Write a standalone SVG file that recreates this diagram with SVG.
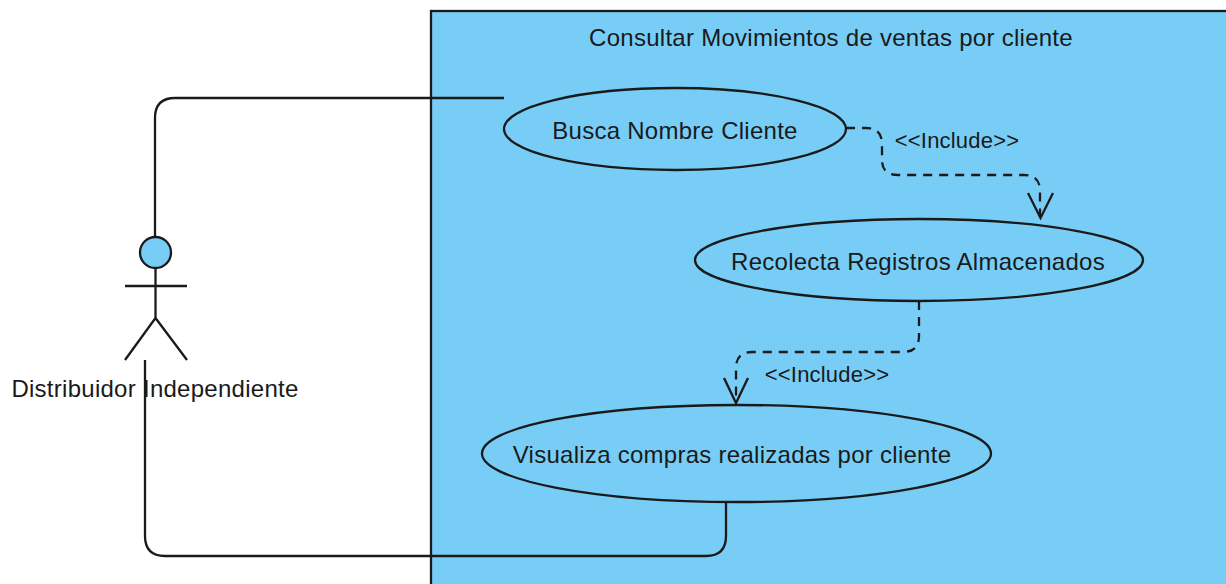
<svg xmlns="http://www.w3.org/2000/svg" width="1226" height="584" viewBox="0 0 1226 584">
<style>
text{font-family:"Liberation Sans",Arial,sans-serif;font-size:24px;letter-spacing:.27px;fill:#1a1a1a;text-anchor:middle}
.s{fill:none;stroke:#1a1a1a;stroke-width:2.3}
.d{stroke-dasharray:9 7}
.e{fill:#78cdf6;stroke:#1a1a1a;stroke-width:2.3}
.l{font-size:22px;letter-spacing:.2px}
</style>
<rect width="1226" height="584" fill="#fff"/>
<g id="system"><rect x="431" y="11" width="800" height="580" class="e"/>
<text x="831" y="46">Consultar Movimientos de ventas por cliente</text></g>
<g id="connectors">
<path class="s" d="M155 240V118Q155 98 175 98H504"/>
<path class="s" d="M145 360V536Q145 556 165 556H706Q726 556 726 536V502"/>
<path class="s d" d="M846 128H866Q882 128 882 144V160Q882 175 898 175H1024Q1040 175 1040 191V217"/>
<path class="s" d="M1028 193L1040.500 218L1053 193"/>
<path class="s d" d="M919 301V336Q919 352 903 352H752Q736 352 736 368V403"/>
<path class="s" d="M724 378L736 403L748 378"/>
<text class="l" x="957" y="148">&lt;&lt;Include&gt;&gt;</text>
<text class="l" x="827" y="382">&lt;&lt;Include&gt;&gt;</text>
</g>
<g id="actor"><circle cx="155.500" cy="252.500" r="15.500" class="e"/>
<path class="s" d="M155.500 268V318M125 286H187M125 360L155.500 318L187 360"/>
<text x="155" y="397">Distribuidor Independiente</text></g>
<g id="uc1"><ellipse cx="675" cy="129" rx="171" ry="41" class="e"/><text x="675" y="139">Busca Nombre Cliente</text></g>
<g id="uc2"><ellipse cx="919" cy="260" rx="224" ry="41" class="e"/><text x="918" y="270">Recolecta Registros Almacenados</text></g>
<g id="uc3"><ellipse cx="736.500" cy="453.500" rx="254.500" ry="48.500" class="e"/><text x="732" y="463">Visualiza compras realizadas por cliente</text></g>
</svg>
